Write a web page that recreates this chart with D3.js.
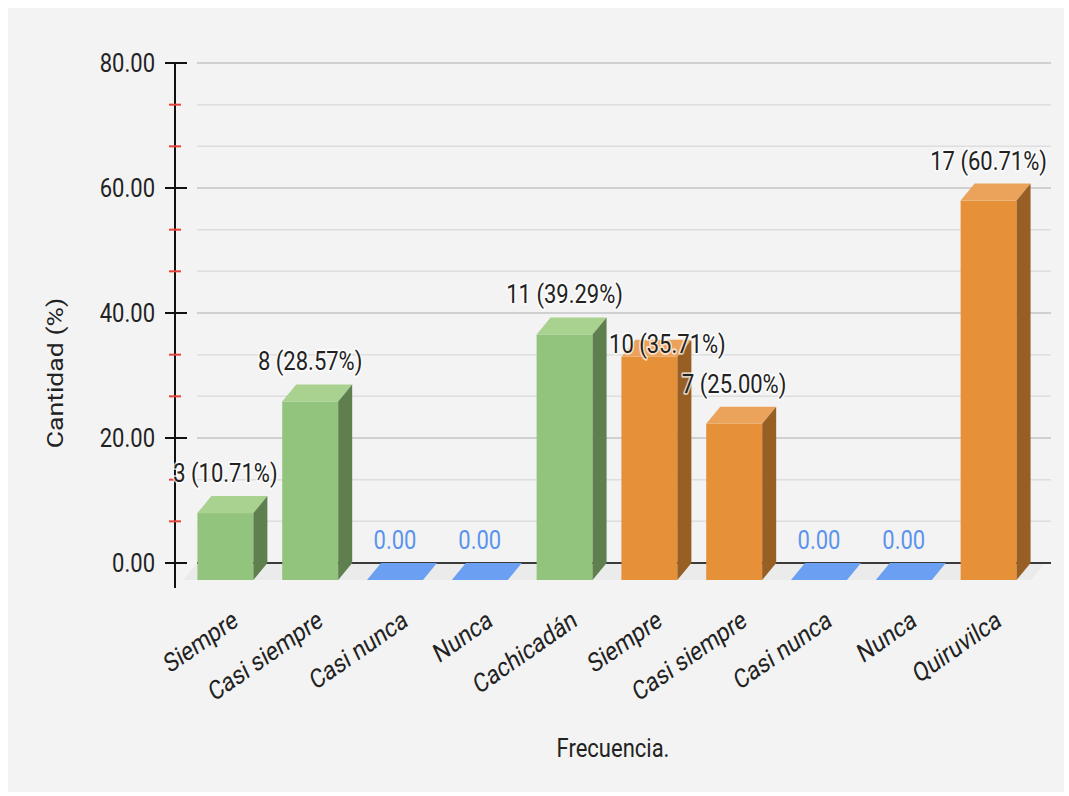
<!DOCTYPE html>
<html>
<head>
<meta charset="utf-8">
<script src="https://cdn.jsdelivr.net/npm/d3@7"></script>
<style>
  html, body { margin: 0; padding: 0; background: #ffffff; }
  svg { display: block; }
  text { font-family: Roboto, "Noto Sans", sans-serif; }
</style>
</head>
<body>
<svg id="chart" width="1069" height="796"></svg>
<script>
// Frequency per answer, Cachicadán block then Quiruvilca block
const categories = ["Siempre", "Casi siempre", "Casi nunca", "Nunca", "Cachicadán",
                    "Siempre", "Casi siempre", "Casi nunca", "Nunca", "Quiruvilca"];
const counts = [3, 8, 0, 0, 11, 10, 7, 0, 0, 17];
const percentages = [10.71, 28.57, 0, 0, 39.29, 35.71, 25.00, 0, 0, 60.71];
const groups = ["Cachicadán", "Cachicadán", "Cachicadán", "Cachicadán", "Cachicadán",
                "Quiruvilca", "Quiruvilca", "Quiruvilca", "Quiruvilca", "Quiruvilca"];
const yTicks = [0, 20, 40, 60, 80];

const svg = d3.select("#chart");
const S = 1.21;          // vertical stretch applied to every text block
const FONT = 22;
const depth = { dx: 14, dy: 17 };

// panel background
svg.append("rect").attr("x", 8).attr("y", 8).attr("width", 1056).attr("height", 784)
  .attr("fill", "#f3f3f3");

const y = d3.scaleLinear().domain([0, 80]).range([563, 63]);
const x = d3.scaleBand().domain(d3.range(categories.length))
  .range([183, 1031]).paddingInner(0.34).paddingOuter(0.17);

const gridLeft = 197, gridRight = 1051, axisX = 175;

function sText(parent, px, py) {
  return parent.append("g")
    .attr("transform", `translate(${px},${py}) scale(1,${S})`)
    .append("text").attr("font-size", FONT);
}

// grid: minor lines every third of a major step, major lines at the ticks
const minor = [];
for (let i = 0; i < yTicks.length - 1; i++) {
  const a = yTicks[i], b = yTicks[i + 1];
  minor.push(a + (b - a) / 3, a + 2 * (b - a) / 3);
}
const grid = svg.append("g");
grid.selectAll("line.minor").data(minor).join("line")
  .attr("x1", gridLeft).attr("x2", gridRight)
  .attr("y1", d => y(d)).attr("y2", d => y(d))
  .attr("stroke", "#dedede").attr("stroke-width", 1.5);
grid.selectAll("line.major").data(yTicks.filter(d => d > 0)).join("line")
  .attr("x1", gridLeft).attr("x2", gridRight)
  .attr("y1", d => y(d)).attr("y2", d => y(d))
  .attr("stroke", "#c4c4c4").attr("stroke-width", 1.5);

// floor under the bars
const floorFront = y(0) + depth.dy;
const [r0, r1] = x.range();
svg.append("polygon")
  .attr("points", [[r0, floorFront], [r1, floorFront], [r1 + depth.dx, y(0)], [r0 + depth.dx, y(0)]].join(" "))
  .attr("fill", "#ebebeb");
svg.append("line").attr("x1", gridLeft).attr("x2", gridRight)
  .attr("y1", y(0)).attr("y2", y(0)).attr("stroke", "#3a3a3a").attr("stroke-width", 2);

// y axis with major and minor ticks
svg.append("line").attr("x1", axisX).attr("x2", axisX).attr("y1", y(80)).attr("y2", 588)
  .attr("stroke", "#111").attr("stroke-width", 2);
svg.selectAll("line.mtick").data(yTicks).join("line")
  .attr("x1", axisX - 10).attr("x2", axisX + 12)
  .attr("y1", d => y(d)).attr("y2", d => y(d))
  .attr("stroke", "#111").attr("stroke-width", 2);
svg.selectAll("line.ntick").data(minor).join("line")
  .attr("x1", axisX - 6).attr("x2", axisX + 6)
  .attr("y1", d => y(d)).attr("y2", d => y(d))
  .attr("stroke", "#e8453c").attr("stroke-width", 2);
yTicks.forEach(t => {
  sText(svg, 155, y(t)).attr("text-anchor", "end").attr("dominant-baseline", "central")
    .attr("fill", "#222").text(d3.format(".2f")(t));
});

// axis titles
sText(svg, 63, 373).attr("transform", "rotate(-90)").attr("text-anchor", "middle")
  .attr("fill", "#222").text("Cantidad (%)");
sText(svg, 613, 757).attr("text-anchor", "middle").attr("fill", "#222").text("Frecuencia.");

// bar colours: front, top, side
const palette = {
  "Cachicadán": { front: "#93c47d", top: "#a9d18f", side: "#5f7f4f" },
  "Quiruvilca": { front: "#e69138", top: "#eba35b", side: "#985f25" },
  zero: { top: "#6a9ff2" }
};

const bars = svg.append("g");
categories.forEach((c, i) => {
  const v = percentages[i];
  const x0 = x(i), w = x.bandwidth();
  const yb = y(v) + depth.dy;       // front face top
  const base = floorFront;
  const g = bars.append("g");
  if (v === 0) {
    g.append("polygon")
      .attr("points", [[x0, base], [x0 + w, base], [x0 + w + depth.dx, y(0)], [x0 + depth.dx, y(0)]].join(" "))
      .attr("fill", palette.zero.top);
    return;
  }
  const col = palette[groups[i]];
  g.append("rect").attr("x", x0).attr("y", yb).attr("width", w).attr("height", base - yb)
    .attr("fill", col.front);
  g.append("polygon")
    .attr("points", [[x0, yb], [x0 + depth.dx, yb - depth.dy], [x0 + w + depth.dx, yb - depth.dy], [x0 + w, yb]].join(" "))
    .attr("fill", col.top);
  g.append("polygon")
    .attr("points", [[x0 + w, yb], [x0 + w + depth.dx, yb - depth.dy], [x0 + w + depth.dx, y(0)], [x0 + w, base]].join(" "))
    .attr("fill", col.side);
});

// category labels, rotated
categories.forEach((c, i) => {
  const cx = x(i) + x.bandwidth() / 2;
  sText(svg, cx + 14, 625).attr("transform", "rotate(-30)").attr("text-anchor", "end")
    .attr("fill", "#222").text(c);
});

// value labels; one is moved aside where it would collide with its neighbour
const labelShift = { 5: [18, 27] };
categories.forEach((c, i) => {
  const v = percentages[i];
  const cx = x(i) + x.bandwidth() / 2;
  const [sx, sy] = labelShift[i] || [0, 0];
  const t = sText(svg, cx + sx, y(v) - 14 + sy).attr("text-anchor", "middle");
  if (counts[i] === 0) {
    t.attr("fill", "#5a93ee").text(d3.format(".2f")(v));
  } else {
    t.attr("fill", "#222")
      .attr("stroke", "#ffffff").attr("stroke-opacity", 0.7).attr("stroke-width", 3)
      .attr("paint-order", "stroke").attr("stroke-linejoin", "round")
      .text(`${counts[i]} (${d3.format(".2f")(v)}%)`);
  }
});
</script>
</body>
</html>
